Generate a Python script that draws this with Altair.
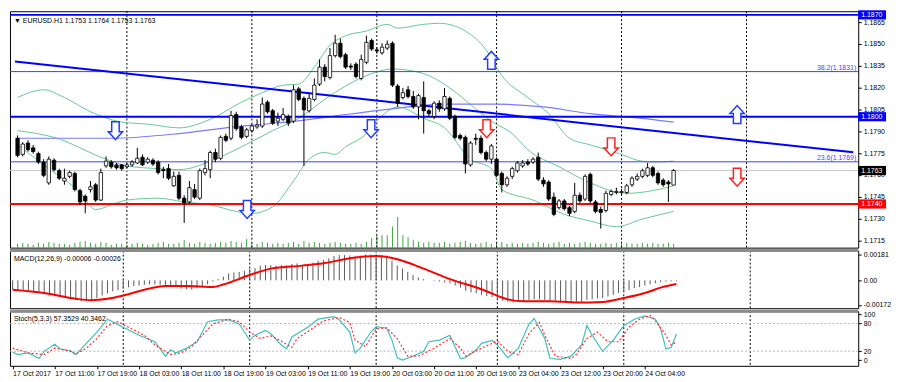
import altair as alt
import pandas as pd

# ---------------- values ----------------
bar_index = list(range(127))

opens = [
    1.17852, 1.17741, 1.17819, 1.17786, 1.17747, 1.17688, 1.17545, 1.17701, 1.17629, 1.17558,
    1.17590, 1.17610, 1.17492, 1.17453, 1.17499, 1.17532, 1.17427, 1.17662, 1.17688, 1.17669,
    1.17669, 1.17656, 1.17669, 1.17682, 1.17721, 1.17688, 1.17701, 1.17688, 1.17636, 1.17643,
    1.17525, 1.17597, 1.17440, 1.17414, 1.17499, 1.17440, 1.17616, 1.17636, 1.17754, 1.17714,
    1.17865, 1.17852, 1.18015, 1.17930, 1.17865, 1.17904, 1.17930, 1.17936, 1.18100, 1.18041,
    1.17969, 1.17982, 1.18002, 1.17969, 1.18191, 1.18126, 1.18041, 1.18119, 1.18224, 1.18341,
    1.18269, 1.18420, 1.18505, 1.18426, 1.18348, 1.18361, 1.18263, 1.18374, 1.18524, 1.18459,
    1.18439, 1.18472, 1.18505, 1.18211, 1.18132, 1.18185, 1.18139, 1.18067, 1.18132, 1.18041,
    1.18002, 1.18093, 1.18054, 1.18126, 1.18002, 1.17871, 1.17858, 1.17669, 1.17852, 1.17852,
    1.17754, 1.17708, 1.17708, 1.17610, 1.17532, 1.17590, 1.17629, 1.17662, 1.17688, 1.17688,
    1.17721, 1.17564, 1.17551, 1.17447, 1.17375, 1.17421, 1.17375, 1.17349, 1.17460, 1.17434,
    1.17603, 1.17414, 1.17362, 1.17355, 1.17466, 1.17479, 1.17479, 1.17479, 1.17532, 1.17571,
    1.17590, 1.17597, 1.17649, 1.17610, 1.17564, 1.17551, 1.17530]

highs = [
    1.17871, 1.17825, 1.17838, 1.17806, 1.17760, 1.17708, 1.17727, 1.17714, 1.17643, 1.17643,
    1.17629, 1.17623, 1.17505, 1.17466, 1.17558, 1.17545, 1.17643, 1.17727, 1.17701, 1.17682,
    1.17675, 1.17682, 1.17701, 1.17786, 1.17741, 1.17721, 1.17714, 1.17701, 1.17656, 1.17675,
    1.17623, 1.17623, 1.17460, 1.17558, 1.17538, 1.17643, 1.17701, 1.17767, 1.17780, 1.17871,
    1.17884, 1.18041, 1.18034, 1.17943, 1.17923, 1.17949, 1.17982, 1.18132, 1.18113, 1.18054,
    1.18028, 1.18060, 1.18015, 1.18217, 1.18204, 1.18139, 1.18165, 1.18263, 1.18394, 1.18361,
    1.18472, 1.18563, 1.18537, 1.18439, 1.18367, 1.18374, 1.18426, 1.18557, 1.18537, 1.18478,
    1.18505, 1.18524, 1.18518, 1.18224, 1.18198, 1.18211, 1.18178, 1.18158, 1.18243, 1.18054,
    1.18106, 1.18113, 1.18198, 1.18139, 1.18015, 1.17884, 1.17871, 1.17832, 1.17884, 1.17871,
    1.17767, 1.17812, 1.17721, 1.17623, 1.17590, 1.17656, 1.17695, 1.17701, 1.17708, 1.17721,
    1.17754, 1.17584, 1.17564, 1.17479, 1.17434, 1.17434, 1.17388, 1.17545, 1.17479, 1.17603,
    1.17616, 1.17427, 1.17381, 1.17492, 1.17499, 1.17512, 1.17505, 1.17538, 1.17590, 1.17610,
    1.17643, 1.17682, 1.17662, 1.17623, 1.17577, 1.17564, 1.17640]

lows = [
    1.17721, 1.17727, 1.17760, 1.17747, 1.17675, 1.17584, 1.17532, 1.17623, 1.17564, 1.17532,
    1.17577, 1.17486, 1.17394, 1.17336, 1.17479, 1.17414, 1.17421, 1.17649, 1.17643, 1.17636,
    1.17629, 1.17643, 1.17656, 1.17675, 1.17662, 1.17675, 1.17662, 1.17603, 1.17577, 1.17564,
    1.17518, 1.17427, 1.17270, 1.17401, 1.17434, 1.17427, 1.17597, 1.17577, 1.17688, 1.17701,
    1.17825, 1.17838, 1.17904, 1.17845, 1.17852, 1.17891, 1.17917, 1.17923, 1.18021, 1.17943,
    1.17936, 1.17969, 1.17936, 1.17956, 1.18106, 1.17662, 1.18028, 1.18106, 1.18211, 1.18243,
    1.18256, 1.18407, 1.18400, 1.18328, 1.18322, 1.18263, 1.18250, 1.18361, 1.18452, 1.18433,
    1.18426, 1.18459, 1.18204, 1.18067, 1.18119, 1.18126, 1.18054, 1.17982, 1.17884, 1.18002,
    1.17982, 1.18034, 1.18041, 1.17976, 1.17845, 1.17838, 1.17610, 1.17656, 1.17806, 1.17741,
    1.17695, 1.17675, 1.17584, 1.17479, 1.17518, 1.17571, 1.17616, 1.17649, 1.17662, 1.17675,
    1.17558, 1.17518, 1.17421, 1.17316, 1.17362, 1.17355, 1.17316, 1.17336, 1.17407, 1.17421,
    1.17407, 1.17336, 1.17231, 1.17342, 1.17453, 1.17466, 1.17466, 1.17466, 1.17518, 1.17558,
    1.17577, 1.17584, 1.17584, 1.17532, 1.17518, 1.17414, 1.17530]

closes = [
    1.17734, 1.17812, 1.17773, 1.17760, 1.17688, 1.17597, 1.17708, 1.17636, 1.17577, 1.17577,
    1.17616, 1.17499, 1.17414, 1.17421, 1.17518, 1.17427, 1.17616, 1.17695, 1.17656, 1.17649,
    1.17643, 1.17669, 1.17688, 1.17714, 1.17669, 1.17708, 1.17675, 1.17616, 1.17629, 1.17577,
    1.17590, 1.17440, 1.17407, 1.17512, 1.17447, 1.17629, 1.17643, 1.17754, 1.17708, 1.17858,
    1.17838, 1.18008, 1.17917, 1.17858, 1.17910, 1.17936, 1.17943, 1.18087, 1.18034, 1.17956,
    1.17989, 1.18015, 1.17956, 1.18185, 1.18119, 1.18047, 1.18126, 1.18217, 1.18341, 1.18276,
    1.18420, 1.18505, 1.18413, 1.18341, 1.18341, 1.18276, 1.18394, 1.18511, 1.18465, 1.18452,
    1.18478, 1.18498, 1.18217, 1.18093, 1.18165, 1.18139, 1.18067, 1.18145, 1.18041, 1.18021,
    1.18093, 1.18054, 1.18139, 1.17989, 1.17858, 1.17852, 1.17675, 1.17819, 1.17845, 1.17754,
    1.17708, 1.17799, 1.17597, 1.17532, 1.17577, 1.17643, 1.17682, 1.17682, 1.17675, 1.17708,
    1.17571, 1.17538, 1.17434, 1.17329, 1.17421, 1.17368, 1.17336, 1.17460, 1.17421, 1.17590,
    1.17421, 1.17349, 1.17342, 1.17473, 1.17486, 1.17486, 1.17486, 1.17525, 1.17577, 1.17590,
    1.17629, 1.17649, 1.17597, 1.17545, 1.17532, 1.17538, 1.17630]

volumes = [
    1800, 2250, 1800, 1350, 2250, 1800, 2700, 2250, 1800, 1800,
    1350, 2250, 2700, 3150, 2250, 1800, 2700, 2250, 1350, 1800,
    1800, 1350, 1800, 2250, 1800, 1350, 1800, 2250, 2700, 1800,
    1800, 2250, 3600, 2250, 1800, 2700, 2250, 1800, 2250, 2700,
    2250, 3150, 2700, 2250, 4050, 2250, 1800, 2700, 2250, 1800,
    2250, 1800, 2250, 2700, 1800, 3150, 2250, 2700, 2250, 1800,
    2250, 2700, 2250, 1800, 1800, 2250, 1800, 2700, 4500, 5850,
    5850, 5850, 9900, 14400, 5850, 4950, 3600, 2700, 2250, 2700,
    2250, 2250, 2700, 1800, 2250, 2700, 3150, 2250, 1800, 2250,
    2700, 1800, 2250, 2700, 1800, 2250, 1800, 2250, 1800, 2250,
    2700, 2250, 1800, 2250, 2700, 1800, 2250, 1800, 2250, 2700,
    2250, 1800, 1800, 2250, 1800, 2250, 1800, 2250, 1800, 1800,
    2250, 1800, 2250, 1800, 1800, 2250, 1800]

bb_upper_idx = [0, 5, 9, 14, 20, 25, 31, 37, 43, 47, 51, 54, 57, 60, 63, 67, 71, 73, 78, 81,
                86, 90, 93, 98, 102, 106, 110, 116, 119, 122, 126]
bb_upper_val = [1.18132, 1.18185, 1.18132, 1.18034, 1.17963, 1.17949, 1.17923, 1.17982, 1.18100, 1.18165,
                1.18217, 1.18224, 1.18341, 1.18491, 1.18557, 1.18589, 1.18635, 1.18609, 1.18635, 1.18642,
                1.18589, 1.18459, 1.18282, 1.18132, 1.18021, 1.17852, 1.17806, 1.17741, 1.17701, 1.17688,
                1.17695]
bb_mid_idx = [0, 7, 17, 21, 27, 31, 38, 43, 49, 54, 59, 63, 68, 72, 78, 83, 88, 91, 95, 98,
              104, 110, 117, 122, 126]
bb_mid_val = [1.17904, 1.17858, 1.17708, 1.17662, 1.17643, 1.17636, 1.17708, 1.17793, 1.17904, 1.17989,
              1.18119, 1.18211, 1.18296, 1.18328, 1.18296, 1.18198, 1.18054, 1.17969, 1.17884, 1.17773,
              1.17656, 1.17545, 1.17473, 1.17492, 1.17525]
bb_lower_idx = [0, 6, 12, 15, 18, 21, 27, 32, 37, 42, 45, 49, 53, 56, 59, 61, 63, 67, 69, 73,
                78, 82, 87, 91, 93, 99, 105, 110, 115, 120, 126]
bb_lower_val = [1.17806, 1.17643, 1.17479, 1.17362, 1.17394, 1.17427, 1.17440, 1.17414, 1.17394, 1.17349,
                1.17336, 1.17381, 1.17558, 1.17708, 1.17754, 1.17741, 1.17793, 1.17884, 1.17969, 1.18067,
                1.17989, 1.17923, 1.17708, 1.17643, 1.17499, 1.17427, 1.17329, 1.17283, 1.17244, 1.17296,
                1.17349]

ma_idx = [0, 18, 31, 40, 55, 63, 72, 82, 92, 101, 110, 118, 126]
ma_val = [1.17852, 1.17852, 1.17884, 1.17923, 1.17976, 1.18015, 1.18054, 1.18087, 1.18087, 1.18067,
          1.18021, 1.17995, 1.17963]

trend_idx = [-0.5, 160.5]
trend_price = [1.18380, 1.17755]

hline_price = [1.1870, 1.1831, 1.1800, 1.1769, 1.1763, 1.1740]
hline_color = ['#0000ff', '#3c3cff', '#0000ff', '#3c3cff', '#c8c8c8', '#ff0000']
hline_width = [2, 1, 2, 1, 1, 2]

fib_price = [1.1831, 1.1769]
fib_text = ['38.2(1.1831)', '23.6(1.1769)']

tag_price = [1.1870, 1.1800, 1.1763, 1.1740]
tag_text = ['1.1870', '1.1800', '1.1763', '1.1740']
tag_color = ['#0000ff', '#0000ff', '#000000', '#ff0000']

arrow_idx = [18.8, 67.9, 44.1, 91.0, 138.2, 90.1, 114.0, 138.2]
arrow_price = [1.17904, 1.17917, 1.17362, 1.18387, 1.18015, 1.17917, 1.17793, 1.17584]
arrow_dir = ['down', 'down', 'down', 'up', 'up', 'down', 'down', 'down']
arrow_color = ['#1f3fff', '#1f3fff', '#1f3fff', '#1f3fff', '#1f3fff', '#ff2020', '#ff2020', '#ff2020']

macd_main = [
    -0.00062, -0.00066, -0.00073, -0.00077, -0.00084, -0.00091, -0.00097, -0.00106, -0.00113, -0.00117,
    -0.00122, -0.00128, -0.00137, -0.00146, -0.00146, -0.00142, -0.00124, -0.00106, -0.00091, -0.00077,
    -0.00069, -0.00058, -0.00049, -0.00040, -0.00036, -0.00031, -0.00029, -0.00029, -0.00031, -0.00033,
    -0.00036, -0.00044, -0.00058, -0.00062, -0.00066, -0.00055, -0.00044, -0.00027, -0.00009, 0.00009,
    0.00026, 0.00048, 0.00055, 0.00059, 0.00066, 0.00079, 0.00086, 0.00102, 0.00108, 0.00106,
    0.00102, 0.00106, 0.00104, 0.00115, 0.00119, 0.00110, 0.00115, 0.00124, 0.00137, 0.00143,
    0.00154, 0.00170, 0.00177, 0.00177, 0.00173, 0.00168, 0.00173, 0.00181, 0.00181, 0.00179,
    0.00177, 0.00173, 0.00137, 0.00104, 0.00082, 0.00059, 0.00037, 0.00020, 0.00009, 0.00000,
    -0.00004, -0.00009, -0.00015, -0.00020, -0.00036, -0.00051, -0.00073, -0.00084, -0.00091, -0.00102,
    -0.00111, -0.00117, -0.00128, -0.00142, -0.00150, -0.00155, -0.00150, -0.00142, -0.00137, -0.00133,
    -0.00133, -0.00137, -0.00142, -0.00150, -0.00155, -0.00157, -0.00159, -0.00155, -0.00150, -0.00137,
    -0.00133, -0.00128, -0.00124, -0.00113, -0.00102, -0.00088, -0.00080, -0.00069, -0.00055, -0.00047,
    -0.00036, -0.00027, -0.00020, -0.00013, -0.00009, -0.00007, -0.00006]

signal_idx = [0, 6, 12, 15, 18, 21, 25, 29, 33, 38, 40, 45, 49, 55, 59, 64, 69, 73, 78, 83,
              89, 94, 97, 102, 107, 112, 116, 120, 123, 126]
signal_val = [-0.00066, -0.00089, -0.00129, -0.00139, -0.00129, -0.00106, -0.00066, -0.00040, -0.00040, -0.00046,
              -0.00029, 0.00037, 0.00082, 0.00103, 0.00119, 0.00154, 0.00170, 0.00148, 0.00082, 0.00009,
              -0.00062, -0.00133, -0.00146, -0.00146, -0.00155, -0.00151, -0.00124, -0.00089, -0.00051, -0.00026]

stoch_k_idx = [0, 1, 3, 5, 6, 8, 9, 11, 12, 14, 16, 18, 21, 24, 27, 29, 30, 31, 33, 35,
               36, 37, 39, 41, 43, 44, 45, 46, 48, 49, 51, 52, 53, 56, 58, 61, 62, 64, 65, 66,
               68, 69, 71, 72, 73, 74, 76, 78, 79, 81, 83, 85, 86, 88, 89, 91, 92, 94, 96, 98,
               99, 101, 102, 104, 106, 108, 109, 110, 112, 114, 116, 118, 120, 122, 123, 124, 125, 126]
stoch_k_val = [18.1, 12.5, 16, 3.8, 19.5, 34.9, 25.1, 20.9, 12.5, 37, 61.6, 89.6, 72.1, 54.6, 40.5, 9, 23, 16, 26.5, 40.5,
               61.6, 84, 88.2, 88.2, 79.1, 61.6, 44, 54.6, 65.1, 58.1, 33.5, 25.1, 51, 72.1, 89.6, 95.2, 88.2, 61.6, 16, 26.5,
               61.6, 73.5, 70, 44, 5.5, 0.6, 9, 19.5, 40.5, 44, 54.6, 4, 5.5, 23, 37, 43.3, 33.5, 5.5, 26.5, 79.1,
               91, 47.5, 4, 2, 9, 33.5, 75.6, 54.6, 19.5, 44, 75.6, 89.6, 96.6, 89.6, 68.6, 25, 27.9, 57.35]
stoch_d_idx = [0, 3, 6, 8, 11, 12, 14, 16, 18, 20, 22, 25, 27, 30, 32, 34, 36, 38, 41, 43,
               45, 47, 49, 51, 53, 54, 57, 59, 62, 64, 65, 67, 69, 71, 73, 75, 77, 80, 83, 85,
               86, 89, 92, 94, 96, 98, 100, 101, 103, 106, 107, 109, 111, 113, 115, 117, 119, 121, 122, 124,
               125, 126]
stoch_d_val = [26.5, 16, 12.5, 26.5, 19.5, 13.9, 26.5, 47.5, 75.6, 84, 72.1, 54.6, 33.5, 12.5, 16, 30, 54.6, 79.1, 89.6, 84,
               61.6, 47.5, 53.2, 41.9, 27.9, 47.5, 70, 86.1, 93.1, 82.6, 44, 30, 68.6, 70.7, 47.5, 9, 9, 26.5, 47.5, 26.5,
               9, 26.5, 41.9, 19.5, 12.5, 58.1, 82.6, 54.6, 9, 4, 12.5, 47.5, 61.6, 40.5, 40.5, 72.1, 89.6, 98, 86.1, 54.6,
               33.5, 40.35]

time_tick_idx = [0, 8, 16, 24, 32, 40, 48, 56, 64, 72, 80, 88, 96, 104, 112, 120]
time_tick_labels = ['17 Oct 2017', '17 Oct 11:00', '17 Oct 19:00', '18 Oct 03:00', '18 Oct 11:00',
                    '18 Oct 19:00', '19 Oct 03:00', '19 Oct 11:00', '19 Oct 19:00', '20 Oct 03:00',
                    '20 Oct 11:00', '20 Oct 19:00', '23 Oct 04:00', '23 Oct 12:00', '23 Oct 20:00',
                    '24 Oct 04:00']
day_break_idx = [21, 45, 69, 92, 116, 140]

price_ticks = [1.1715, 1.1730, 1.1745, 1.1760, 1.1775, 1.1790, 1.1805, 1.1820, 1.1835, 1.1850, 1.1865]
macd_ticks = [-0.00172, 0.0, 0.00181]
stoch_ticks = [0, 20, 80, 100]
stoch_levels = [20, 80]

main_title = '\u25bc EURUSD.H1  1.1753 1.1764 1.1753 1.1763'
macd_title = 'MACD(12,26,9) -0.00006 -0.00026'
stoch_title = 'Stoch(5,3,3) 57.3529 40.3462'

# ---------------- layout ----------------
W = 854
H_MAIN = 238
H_MACD = 58
H_ST = 55
FONT = 'Liberation Sans'
FS = 7

xscale = alt.Scale(domain=[-0.5, 160.5], nice=False, zero=False)
X = alt.X('i:Q', scale=xscale, axis=None, title=None)

label_js = '[' + ','.join("'" + s + "'" for s in time_tick_labels) + ']'
xaxis = alt.Axis(values=time_tick_idx, labelExpr=label_js + '[round(datum.value/8)]',
                 labelAlign='left', labelPadding=1, tickSize=3, labelFlush=False,
                 labelOverlap=False, grid=False, domain=False, title=None, labelFontSize=FS)
XS = alt.X('i:Q', scale=xscale, axis=xaxis, title=None)

pscale = alt.Scale(domain=[1.1710, 1.18725], nice=False, zero=False)
paxis = alt.Axis(orient='right', values=price_ticks, format='.4f', tickSize=3, labelPadding=2,
                 labelFlush=False, labelOverlap=False, grid=False, domain=False, title=None,
                 labelFontSize=FS)


def PY(f):
    return alt.Y(f, type='quantitative', scale=pscale, axis=paxis, title=None)


cdf = pd.DataFrame({'i': bar_index, 'o': opens, 'h': highs, 'l': lows, 'c': closes, 'v': volumes})

vol = alt.Chart(cdf).mark_rule(color='#3aa83a', strokeWidth=1).encode(
    x=X, y=alt.Y('v:Q', scale=alt.Scale(domain=[0, 111000], nice=False), axis=None, title=None),
    y2=alt.datum(0))

grid_df = pd.DataFrame({'i': day_break_idx})
grid = alt.Chart(grid_df).mark_rule(color='black', strokeDash=[2, 2], strokeWidth=1).encode(x=X)
grid_s = alt.Chart(grid_df).mark_rule(color='black', strokeDash=[2, 2], strokeWidth=1).encode(x=XS)

bb_df = pd.concat([
    pd.DataFrame({'i': bb_upper_idx, 'p': bb_upper_val, 'b': 'upper'}),
    pd.DataFrame({'i': bb_mid_idx, 'p': bb_mid_val, 'b': 'mid'}),
    pd.DataFrame({'i': bb_lower_idx, 'p': bb_lower_val, 'b': 'lower'}),
])
bb = alt.Chart(bb_df).mark_line(color='#66c896', strokeWidth=1, interpolate='monotone').encode(
    x=X, y=PY('p'), detail='b:N')

ma = alt.Chart(pd.DataFrame({'i': ma_idx, 'p': ma_val})).mark_line(
    color='#7b7bff', strokeWidth=1.2, interpolate='monotone').encode(x=X, y=PY('p'))

hl = alt.Chart(pd.DataFrame({'p': hline_price, 'col': hline_color, 'w': hline_width})).mark_rule().encode(
    y=PY('p'), color=alt.Color('col:N', scale=None), strokeWidth=alt.StrokeWidth('w:Q', scale=None))

trend = alt.Chart(pd.DataFrame({'i': trend_idx, 'p': trend_price})).mark_line(
    color='#0000ff', strokeWidth=2).encode(x=X, y=PY('p'))

wicks = alt.Chart(cdf).mark_rule(color='black', strokeWidth=1).encode(x=X, y=PY('l'), y2='h')
bodies = alt.Chart(cdf).mark_bar(size=3.4, stroke='black', strokeWidth=0.8).encode(
    x=X, y=PY('o'), y2='c',
    fill=alt.condition('datum.c >= datum.o', alt.value('white'), alt.value('black')))

DOWN = 'M -0.42 -1 L 0.42 -1 L 0.42 0.12 L 0.8 0.12 L 0 1 L -0.8 0.12 L -0.42 0.12 Z'
UP = 'M -0.42 1 L 0.42 1 L 0.42 -0.12 L 0.8 -0.12 L 0 -1 L -0.8 -0.12 L -0.42 -0.12 Z'
adf = pd.DataFrame({'i': arrow_idx, 'p': arrow_price, 'dir': arrow_dir, 'col': arrow_color})
arr_down = alt.Chart(adf).transform_filter("datum.dir == 'down'").mark_point(
    shape=DOWN, size=324, filled=True, fill='white', opacity=1, strokeWidth=1.5).encode(
    x=X, y=PY('p'), stroke=alt.Stroke('col:N', scale=None))
arr_up = alt.Chart(adf).transform_filter("datum.dir == 'up'").mark_point(
    shape=UP, size=324, filled=True, fill='white', opacity=1, strokeWidth=1.5).encode(
    x=X, y=PY('p'), stroke=alt.Stroke('col:N', scale=None))

fib = alt.Chart(pd.DataFrame({'p': fib_price, 't': fib_text})).mark_text(
    align='right', baseline='bottom', dx=-2, dy=-1, color='#4646ff', fontSize=FS).encode(
    x=alt.value(W), y=PY('p'), text='t:N')

BOX = 'M -1 -0.33 L 1 -0.33 L 1 0.33 L -1 0.33 Z'
tag_df = pd.DataFrame({'p': tag_price, 't': tag_text, 'col': tag_color})
tag_box = alt.Chart(tag_df).mark_point(shape=BOX, size=28 * 28, filled=True, opacity=1, xOffset=14).encode(
    x=alt.value(W), y=PY('p'), color=alt.Color('col:N', scale=None))
tag_txt = alt.Chart(tag_df).mark_text(align='left', baseline='middle', dx=3, color='white', fontSize=FS).encode(
    x=alt.value(W), y=PY('p'), text='t:N')

ttl = alt.Chart(pd.DataFrame({'t': [main_title]})).mark_text(
    align='left', baseline='middle', fontSize=FS, color='black').encode(
    x=alt.value(4), y=alt.value(10), text='t:N')

price_layer = alt.layer(grid, bb, ma, hl, trend, wicks, bodies, arr_down, arr_up, fib, tag_box, tag_txt, ttl)
main = alt.layer(vol, price_layer).resolve_scale(y='independent').properties(width=W, height=H_MAIN)

# ---------------- MACD ----------------
mscale = alt.Scale(domain=[-0.00195, 0.00208], nice=False, zero=False)
maxis = alt.Axis(orient='right', values=macd_ticks,
                 labelExpr="datum.value == 0 ? '0.00' : (datum.value < 0 ? '-' : '') + format(abs(datum.value), '.5f')",
                 tickSize=3, labelPadding=2, labelFlush=False, labelOverlap=False, grid=False,
                 domain=False, title=None, labelFontSize=FS)


def MY(f):
    return alt.Y(f, type='quantitative', scale=mscale, axis=maxis, title=None)


hist = alt.Chart(pd.DataFrame({'i': bar_index, 'm': macd_main})).mark_rule(
    color='#5a5a5a', strokeWidth=1).encode(x=X, y=MY('m'), y2=alt.datum(0))
sig = alt.Chart(pd.DataFrame({'i': signal_idx, 's': signal_val})).mark_line(
    color='#ff0000', strokeWidth=2, interpolate='monotone').encode(x=X, y=MY('s'))
sep = alt.Chart(pd.DataFrame({'z': [0]})).mark_rule(color='#8c8c8c', strokeWidth=3).encode(
    x=alt.value(0), x2=alt.value(W), y=alt.value(0))
mttl = alt.Chart(pd.DataFrame({'t': [macd_title]})).mark_text(
    align='left', baseline='middle', fontSize=FS, color='black').encode(
    x=alt.value(4), y=alt.value(8), text='t:N')
macd_panel = alt.layer(grid, hist, sig, sep, mttl).properties(width=W, height=H_MACD)

# ---------------- Stochastic ----------------
sscale = alt.Scale(domain=[-12, 107], nice=False, zero=False)
saxis = alt.Axis(orient='right', values=stoch_ticks, format='d', tickSize=3, labelPadding=2,
                 labelFlush=False, labelOverlap=False, grid=False, domain=False, title=None,
                 labelFontSize=FS)


def SY(f):
    return alt.Y(f, type='quantitative', scale=sscale, axis=saxis, title=None)


lev = alt.Chart(pd.DataFrame({'v': stoch_levels})).mark_rule(
    color='#b4b4b4', strokeDash=[2, 2], strokeWidth=1).encode(y=SY('v'))
kline = alt.Chart(pd.DataFrame({'i': stoch_k_idx, 'k': stoch_k_val})).mark_line(
    color='#3fbfbf', strokeWidth=1.2).encode(x=XS, y=SY('k'))
dline = alt.Chart(pd.DataFrame({'i': stoch_d_idx, 'd': stoch_d_val})).mark_line(
    color='#ff3030', strokeWidth=1.2, strokeDash=[2, 2]).encode(x=XS, y=SY('d'))
sttl = alt.Chart(pd.DataFrame({'t': [stoch_title]})).mark_text(
    align='left', baseline='middle', fontSize=FS, color='black').encode(
    x=alt.value(4), y=alt.value(8), text='t:N')
st_panel = alt.layer(grid_s, lev, kline, dline, sep, sttl).properties(width=W, height=H_ST)

chart = alt.vconcat(main, macd_panel, st_panel, spacing=0).properties(
    padding=0, background='white'
).configure(font=FONT).configure_view(
    stroke='black', strokeWidth=1
).configure_axis(
    labelFont=FONT, labelFontSize=FS, labelColor='black', tickColor='black'
)

chart.save('out.html', embed_options={'renderer': 'svg', 'actions': False})
